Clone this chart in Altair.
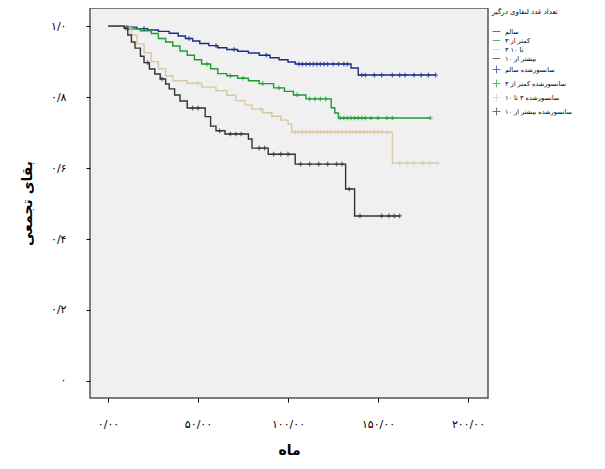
import altair as alt
import pandas as pd

# ---- data ----
groups = ["سالم", "کمتر از ۳", "۳ تا ۱۰", "بیشتر از ۱۰"]
censor_labels = ["سانسورشده سالم", "سانسورشده کمتر از ۳", "سانسورشده ۳ تا ۱۰", "سانسورشده بیشتر از ۱۰"]
colors = ["#1c2a8e", "#1e9b32", "#d8c8a4", "#333333"]

g1_t = [0, 10, 16, 22, 28, 34, 39, 43, 47, 51, 56, 61, 66, 72, 78, 84, 90, 95, 100, 104, 135, 139, 182]
g1_s = [1.0, 0.997, 0.993, 0.989, 0.985, 0.980, 0.972, 0.965, 0.958, 0.951, 0.945, 0.939, 0.934, 0.929, 0.924, 0.918, 0.911, 0.905, 0.899, 0.893, 0.882, 0.862, 0.862]
g1_c = [20, 45, 60, 70, 88, 106, 108, 110, 112, 114, 116, 118, 120, 122, 125, 128, 131, 133, 141, 143, 148, 152, 158, 162, 165, 170, 174, 178, 182]

g2_t = [0, 11, 18, 24, 28, 32, 36, 40, 44, 48, 52, 57, 61, 66, 72, 78, 84, 92, 98, 103, 110, 124, 126, 128, 179]
g2_s = [1.0, 0.992, 0.987, 0.979, 0.965, 0.955, 0.944, 0.930, 0.918, 0.905, 0.893, 0.880, 0.866, 0.860, 0.853, 0.846, 0.838, 0.826, 0.816, 0.806, 0.795, 0.770, 0.755, 0.741, 0.741]
g2_c = [55, 68, 75, 86, 95, 105, 112, 115, 118, 121, 129, 131, 133, 135, 137, 139, 141, 143, 146, 150, 155, 158, 179]

g3_t = [0, 10, 13, 16, 20, 24, 28, 32, 36, 44, 52, 60, 66, 71, 76, 80, 86, 91, 96, 100, 102, 158, 183]
g3_s = [1.0, 0.995, 0.975, 0.950, 0.925, 0.900, 0.880, 0.860, 0.846, 0.839, 0.828, 0.818, 0.805, 0.790, 0.778, 0.766, 0.756, 0.746, 0.735, 0.724, 0.701, 0.614, 0.614]
g3_c = [50, 85, 104, 106, 108, 110, 112, 114, 116, 118, 120, 122, 124, 126, 128, 130, 132, 134, 136, 138, 140, 142, 144, 146, 148, 150, 152, 155, 162, 166, 170, 175, 179, 183]

g4_t = [0, 9, 11, 13, 15, 18, 20, 23, 26, 29, 32, 34, 37, 40, 44, 54, 57, 60, 65, 78, 80, 89, 104, 132, 137, 162]
g4_s = [1.0, 0.994, 0.975, 0.955, 0.938, 0.915, 0.897, 0.879, 0.865, 0.851, 0.837, 0.823, 0.806, 0.789, 0.769, 0.745, 0.718, 0.705, 0.696, 0.682, 0.656, 0.639, 0.611, 0.541, 0.465, 0.465]
g4_c = [10, 22, 30, 47, 50, 62, 68, 71, 74, 84, 87, 92, 96, 100, 107, 112, 117, 122, 127, 130, 134, 140, 152, 156, 159, 162]

y_ticks = [0, 0.2, 0.4, 0.6, 0.8, 1.0]
y_labels = ["۰", "۰/۲", "۰/۴", "۰/۶", "۰/۸", "۱/۰"]
x_ticks = [0, 50, 100, 150, 200]
x_labels = ["۰/۰۰", "۵۰/۰۰", "۱۰۰/۰۰", "۱۵۰/۰۰", "۲۰۰/۰۰"]

# ---- build tables ----
series = [(g1_t, g1_s, g1_c), (g2_t, g2_s, g2_c), (g3_t, g3_s, g3_c), (g4_t, g4_s, g4_c)]
line_rows, cens_rows = [], []
for i, (ts, ss, cs) in enumerate(series):
    for t, s in zip(ts, ss):
        line_rows.append({"t": t, "s": s, "label": groups[i], "order": t})
    for c in cs:
        level = [s for t, s in zip(ts, ss) if t <= c][-1]
        cens_rows.append({"t": c, "s": level, "label": censor_labels[i]})
lines_df = pd.DataFrame(line_rows)
cens_df = pd.DataFrame(cens_rows)

all_labels = groups + censor_labels
color_scale = alt.Scale(domain=all_labels, range=colors + colors)
shape_scale = alt.Scale(domain=all_labels, range=["stroke"] * 4 + ["M-1,0H1M0,-1V1"] * 4)

x_scale = alt.Scale(domain=[-10, 211.1], nice=False, zero=False)
y_scale = alt.Scale(domain=[-0.048, 1.051], nice=False, zero=False)

x_axis = alt.Axis(values=x_ticks, title="ماه", grid=False, domain=False,
                  tickSize=4, tickColor="#000", labelPadding=16,
                  labelExpr="[" + ",".join("'%s'" % l for l in x_labels) + "][round(datum.value/50)]",
                  labelFont="DejaVu Sans", labelFontSize=11, labelColor="#000",
                  titleFont="DejaVu Sans", titleFontSize=14, titleFontWeight="bold",
                  titleColor="#000", titlePadding=14)
y_axis = alt.Axis(values=y_ticks, title="بقای تجمعی", grid=False, domain=False,
                  tickSize=4, tickColor="#000", labelPadding=20,
                  labelExpr="[" + ",".join("'%s'" % l for l in y_labels) + "][round(datum.value*5)]",
                  labelFont="DejaVu Sans", labelFontSize=11, labelColor="#000",
                  titleFont="DejaVu Sans", titleFontSize=14, titleFontWeight="bold",
                  titleColor="#000", titlePadding=16)

legend = alt.Legend(title="تعداد غدد لنفاوی درگیر", orient="right", offset=4,
                    titleFont="DejaVu Sans", titleFontSize=7, titleFontWeight="normal",
                    labelFont="DejaVu Sans", labelFontSize=6.5, labelColor="#000",
                    symbolSize=60, symbolStrokeWidth=1, rowPadding=1, labelLimit=100,
                    titlePadding=12)

lines = alt.Chart(lines_df).mark_line(interpolate="step-after", strokeWidth=1.4).encode(
    x=alt.X("t:Q", scale=x_scale, axis=x_axis),
    y=alt.Y("s:Q", scale=y_scale, axis=y_axis),
    color=alt.Color("label:N", scale=color_scale, legend=legend),
    detail="label:N",
    order="order:Q",
)

cens = alt.Chart(cens_df).mark_point(filled=False, size=22, strokeWidth=1.3).encode(
    x=alt.X("t:Q", scale=x_scale),
    y=alt.Y("s:Q", scale=y_scale),
    color=alt.Color("label:N", scale=color_scale, legend=legend),
    shape=alt.Shape("label:N", scale=shape_scale, legend=legend),
)

chart = alt.layer(lines, cens).properties(
    width=398, height=390,
    autosize=alt.AutoSizeParams(type="none"),
    padding={"left": 82, "top": 0, "right": 109, "bottom": 60},
    background="#ffffff",
).configure_view(
    fill="#f0f0f0", stroke="#555555", strokeWidth=1.5
)

chart.save("out.html", embed_options={"renderer": "svg", "actions": False})
